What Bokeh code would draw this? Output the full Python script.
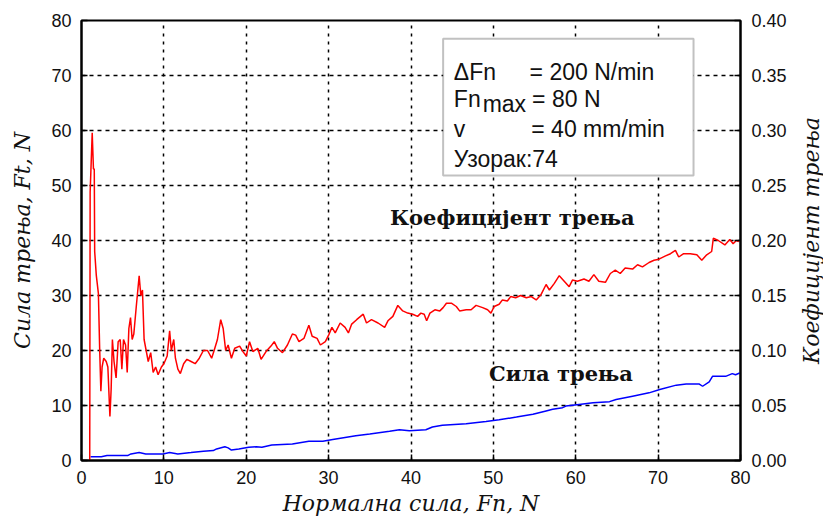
import math
from bokeh.plotting import figure
from bokeh.layouts import row
from bokeh.models import (Range1d, LinearAxis, FixedTicker, PrintfTickFormatter,
                          Label, BoxAnnotation)
from bokeh.embed import file_html
from bokeh.resources import INLINE

# ---------------- data ----------------
x_ticks = [0, 10, 20, 30, 40, 50, 60, 70, 80]
y_ticks = [0, 10, 20, 30, 40, 50, 60, 70, 80]
mu_ticks = [0.0, 0.05, 0.10, 0.15, 0.20, 0.25, 0.30, 0.35, 0.40]

# Friction coefficient (right axis) vs normal force
coef_fn = [
    1.0, 1.05, 1.3, 1.45, 1.55, 1.6, 1.8, 2.05, 2.2, 2.35,
    2.5, 2.7, 3.0, 3.2, 3.45, 3.6, 3.75, 3.95, 4.2, 4.45,
    4.7, 4.9, 5.1, 5.35, 5.55, 5.75, 5.95, 6.15, 6.35, 6.65,
    7.0, 7.2, 7.4, 7.6, 7.85, 8.1, 8.4, 8.7, 9.0, 9.3,
    9.7, 10.0, 10.4, 10.7, 10.9, 11.2, 11.4, 11.7, 12.0, 12.4,
    12.8, 13.3, 13.8, 14.3, 14.8, 15.3, 15.8, 16.1, 16.5, 16.9,
    17.2, 17.5, 17.8, 18.2, 18.6, 19.2, 19.6, 20.0, 20.4, 20.8,
    21.4, 21.8, 22.4, 23.0, 23.4, 23.8, 24.4, 25.0, 25.6, 26.0,
    26.4, 27.0, 27.6, 28.0, 28.6, 29.0, 29.6, 30.0, 30.4, 30.8,
    31.4, 32.0, 32.4, 32.8, 33.4, 34.2, 34.6, 35.2, 36.0, 36.8,
    37.2, 37.8, 38.4, 39.0, 39.6, 40.2, 40.8, 41.2, 41.6, 41.9,
    42.3, 42.9, 43.5, 43.9, 44.3, 44.9, 45.5, 45.9, 46.7, 47.3,
    47.9, 48.7, 49.3, 49.7, 50.1, 50.7, 51.1, 51.7, 52.1, 52.7,
    53.3, 54.0, 54.6, 55.2, 55.8, 56.4, 56.8, 57.4, 58.0, 58.6,
    59.2, 59.6, 60.2, 61.0, 61.6, 62.2, 62.8, 63.6, 64.2, 64.8,
    65.4, 66.0, 66.9, 67.5, 68.1, 68.9, 69.5, 70.1, 70.9, 71.5,
    72.1, 72.5, 73.1, 73.9, 74.7, 75.3, 75.9, 76.5, 76.7, 77.3,
    78.1, 78.7, 79.1, 79.5, 79.8,
]
coef_mu = [
    0.0, 0.244, 0.298, 0.265, 0.265, 0.19, 0.168, 0.152, 0.103, 0.063,
    0.085, 0.093, 0.09, 0.085, 0.04, 0.065, 0.11, 0.09, 0.075, 0.108,
    0.11, 0.083, 0.11, 0.105, 0.08, 0.12, 0.13, 0.11, 0.115, 0.14,
    0.168, 0.15, 0.155, 0.11, 0.10, 0.09, 0.098, 0.08, 0.085, 0.078,
    0.085, 0.088, 0.095, 0.118, 0.10, 0.11, 0.093, 0.083, 0.079, 0.088,
    0.092, 0.09, 0.088, 0.093, 0.10, 0.10, 0.093, 0.10, 0.11, 0.128,
    0.12, 0.10, 0.105, 0.093, 0.102, 0.104, 0.099, 0.095, 0.108, 0.099,
    0.102, 0.092, 0.099, 0.104, 0.108, 0.102, 0.098, 0.105, 0.115, 0.114,
    0.108, 0.111, 0.123, 0.113, 0.111, 0.105, 0.108, 0.114, 0.121, 0.116,
    0.125, 0.121, 0.116, 0.124, 0.128, 0.133, 0.125, 0.128, 0.125, 0.121,
    0.127, 0.131, 0.141, 0.136, 0.134, 0.133, 0.131, 0.134, 0.133, 0.127,
    0.134, 0.137, 0.136, 0.139, 0.143, 0.143, 0.14, 0.136, 0.137, 0.137,
    0.141, 0.139, 0.137, 0.134, 0.14, 0.142, 0.146, 0.145, 0.149, 0.148,
    0.15, 0.148, 0.149, 0.146, 0.151, 0.16, 0.155, 0.161, 0.168, 0.163,
    0.158, 0.164, 0.163, 0.165, 0.163, 0.169, 0.163, 0.162, 0.17, 0.173,
    0.17, 0.175, 0.174, 0.178, 0.176, 0.18, 0.182, 0.183, 0.186, 0.188,
    0.191, 0.185, 0.188, 0.188, 0.187, 0.182, 0.187, 0.19, 0.202, 0.20,
    0.196, 0.201, 0.197, 0.20, 0.199,
]

# Friction force (left axis) vs normal force
force_fn = [
    1.1, 2.4, 3.1, 5.6, 6.0, 7.0, 7.8, 9.9, 10.7, 11.7,
    13.3, 14.8, 16.0, 16.4, 17.4, 17.8, 18.2, 19.1, 20.3, 21.2,
    21.9, 23.1, 25.6, 27.6, 29.3, 30.5, 33.3, 35.0, 37.4, 38.6,
    39.8, 41.8, 42.6, 43.8, 46.7, 49.1, 50.7, 52.8, 54.8, 56.4,
    57.2, 58.4, 58.8, 60.4, 62.1, 64.1, 64.9, 66.9, 68.9, 70.2,
    72.2, 73.4, 75.0, 75.4, 76.2, 76.6, 78.2, 79.0, 79.4, 79.9,
]
force_ft = [
    0.7, 0.7, 0.9, 0.9, 1.2, 1.45, 1.2, 1.2, 1.45, 1.2,
    1.45, 1.7, 1.8, 2.1, 2.5, 2.3, 1.9, 2.1, 2.4, 2.5,
    2.4, 2.8, 3.0, 3.5, 3.5, 3.8, 4.5, 4.8, 5.3, 5.6,
    5.4, 5.6, 6.1, 6.4, 6.7, 7.1, 7.4, 7.9, 8.4, 9.0,
    9.3, 9.6, 9.9, 10.2, 10.5, 10.7, 11.1, 11.7, 12.3, 12.9,
    13.7, 13.9, 13.9, 13.5, 14.3, 15.3, 15.3, 15.8, 15.6, 15.9,
]
assert len(coef_fn) == len(coef_mu)
assert len(force_fn) == len(force_ft)

TICK_FONT = "Liberation Sans"
LABEL_FONT = "DejaVu Serif"

# ---------------- main figure ----------------
p = figure(width=795, height=520, output_backend="svg", toolbar_location=None,
           x_range=Range1d(0, 80), y_range=Range1d(0, 80),
           min_border_left=81, min_border_right=55, min_border_top=20,
           min_border_bottom=60, background_fill_color="white",
           border_fill_color="white")
p.extra_y_ranges = {"mu": Range1d(0, 0.4)}

p.outline_line_color = "black"
p.outline_line_width = 2

def style_axis(ax):
    ax.major_tick_in = 6
    ax.major_tick_out = 0
    ax.minor_tick_in = 0
    ax.minor_tick_out = 0
    ax.axis_line_color = "black"
    ax.axis_line_width = 2
    ax.major_tick_line_color = "black"
    ax.major_tick_line_width = 1.5
    ax.major_label_text_font = TICK_FONT
    ax.major_label_text_font_size = "18px"
    ax.major_label_text_color = "#111111"
    ax.axis_label_text_font = LABEL_FONT
    ax.axis_label_text_font_style = "italic"
    ax.axis_label_text_font_size = "22px"
    ax.axis_label_text_color = "#111111"

xa = p.xaxis[0]
ya = p.yaxis[0]
xa.ticker = FixedTicker(ticks=x_ticks)
ya.ticker = FixedTicker(ticks=y_ticks)
style_axis(xa)
style_axis(ya)
xa.axis_label = "Нормална сила, Fn, N"
ya.axis_label = "Сила трења, Ft, N"
xa.major_label_standoff = 10
xa.axis_label_standoff = 4
ya.major_label_standoff = 10
ya.axis_label_standoff = 13

ra = LinearAxis(y_range_name="mu", ticker=FixedTicker(ticks=mu_ticks),
                formatter=PrintfTickFormatter(format="%.2f"))
style_axis(ra)
ra.major_label_standoff = 11
p.add_layout(ra, "right")

# grid
p.xgrid.ticker = FixedTicker(ticks=x_ticks[1:-1])
p.ygrid.ticker = FixedTicker(ticks=y_ticks[1:-1])
p.xgrid.grid_line_color = "black"
p.xgrid.grid_line_dash = "3 5"
p.xgrid.grid_line_width = 1.5
p.ygrid.grid_line_color = "black"
p.ygrid.grid_line_dash = "4 4"
p.ygrid.grid_line_width = 1.5

# series
p.line(force_fn, force_ft, line_color="#0000ff", line_width=1.5)
p.line(coef_fn, coef_mu, line_color="#ff0000", line_width=1.5, y_range_name="mu")

# info box
p.add_layout(BoxAnnotation(left=43.9, right=74.3, top=76.7, bottom=51.8,
                           fill_color="white", fill_alpha=1.0,
                           line_color="#333333", line_width=2, level="annotation"))

def box_text(x, y, t, size="23px"):
    p.add_layout(Label(x=x, y=y, text=t, text_font=TICK_FONT, text_font_size=size,
                       text_color="#111111", text_baseline="alphabetic",
                       text_align="left"))

box_text(45.2, 70.6, "ΔFn")
box_text(54.4, 70.6, "= 200 N/min")
box_text(45.2, 65.8, "Fn")
box_text(48.7, 64.9, "max")
box_text(54.7, 65.8, "= 80 N")
box_text(45.2, 60.3, "v")
box_text(54.6, 60.3, "= 40 mm/min")
box_text(45.2, 54.85, "Узорак:74")

# series labels
p.add_layout(Label(x=52.3, y=44.2, text="Коефицијент трења", text_font=LABEL_FONT,
                   text_font_style="bold", text_font_size="21px", text_color="#111111",
                   text_align="center", text_baseline="middle"))
p.add_layout(Label(x=58.2, y=15.8, text="Сила трења", text_font=LABEL_FONT,
                   text_font_style="bold", text_font_size="21px", text_color="#111111",
                   text_align="center", text_baseline="middle"))

# ---------------- narrow strip carrying the right-hand axis title ----------------
# (a left-side axis label reads bottom-to-top, as in the reference)
q = figure(width=28, height=520, output_backend="svg", toolbar_location=None,
           x_range=Range1d(0, 1), y_range=Range1d(0, 1), x_axis_location=None,
           min_border_left=26, min_border_right=0, min_border_top=20,
           min_border_bottom=60, background_fill_color="white",
           border_fill_color="white")
q.outline_line_color = None
q.grid.visible = False
qa = q.yaxis[0]
qa.ticker = FixedTicker(ticks=[])
qa.axis_line_color = None
qa.major_tick_in = 0
qa.major_tick_out = 0
qa.minor_tick_in = 0
qa.minor_tick_out = 0
qa.axis_label = "Коефицијент трења"
qa.axis_label_standoff = 0
qa.axis_label_text_font = LABEL_FONT
qa.axis_label_text_font_style = "italic"
qa.axis_label_text_font_size = "22px"
qa.axis_label_text_color = "#111111"

layout = row(p, q, spacing=0)
open("out.html", "w").write(file_html(layout, INLINE))
